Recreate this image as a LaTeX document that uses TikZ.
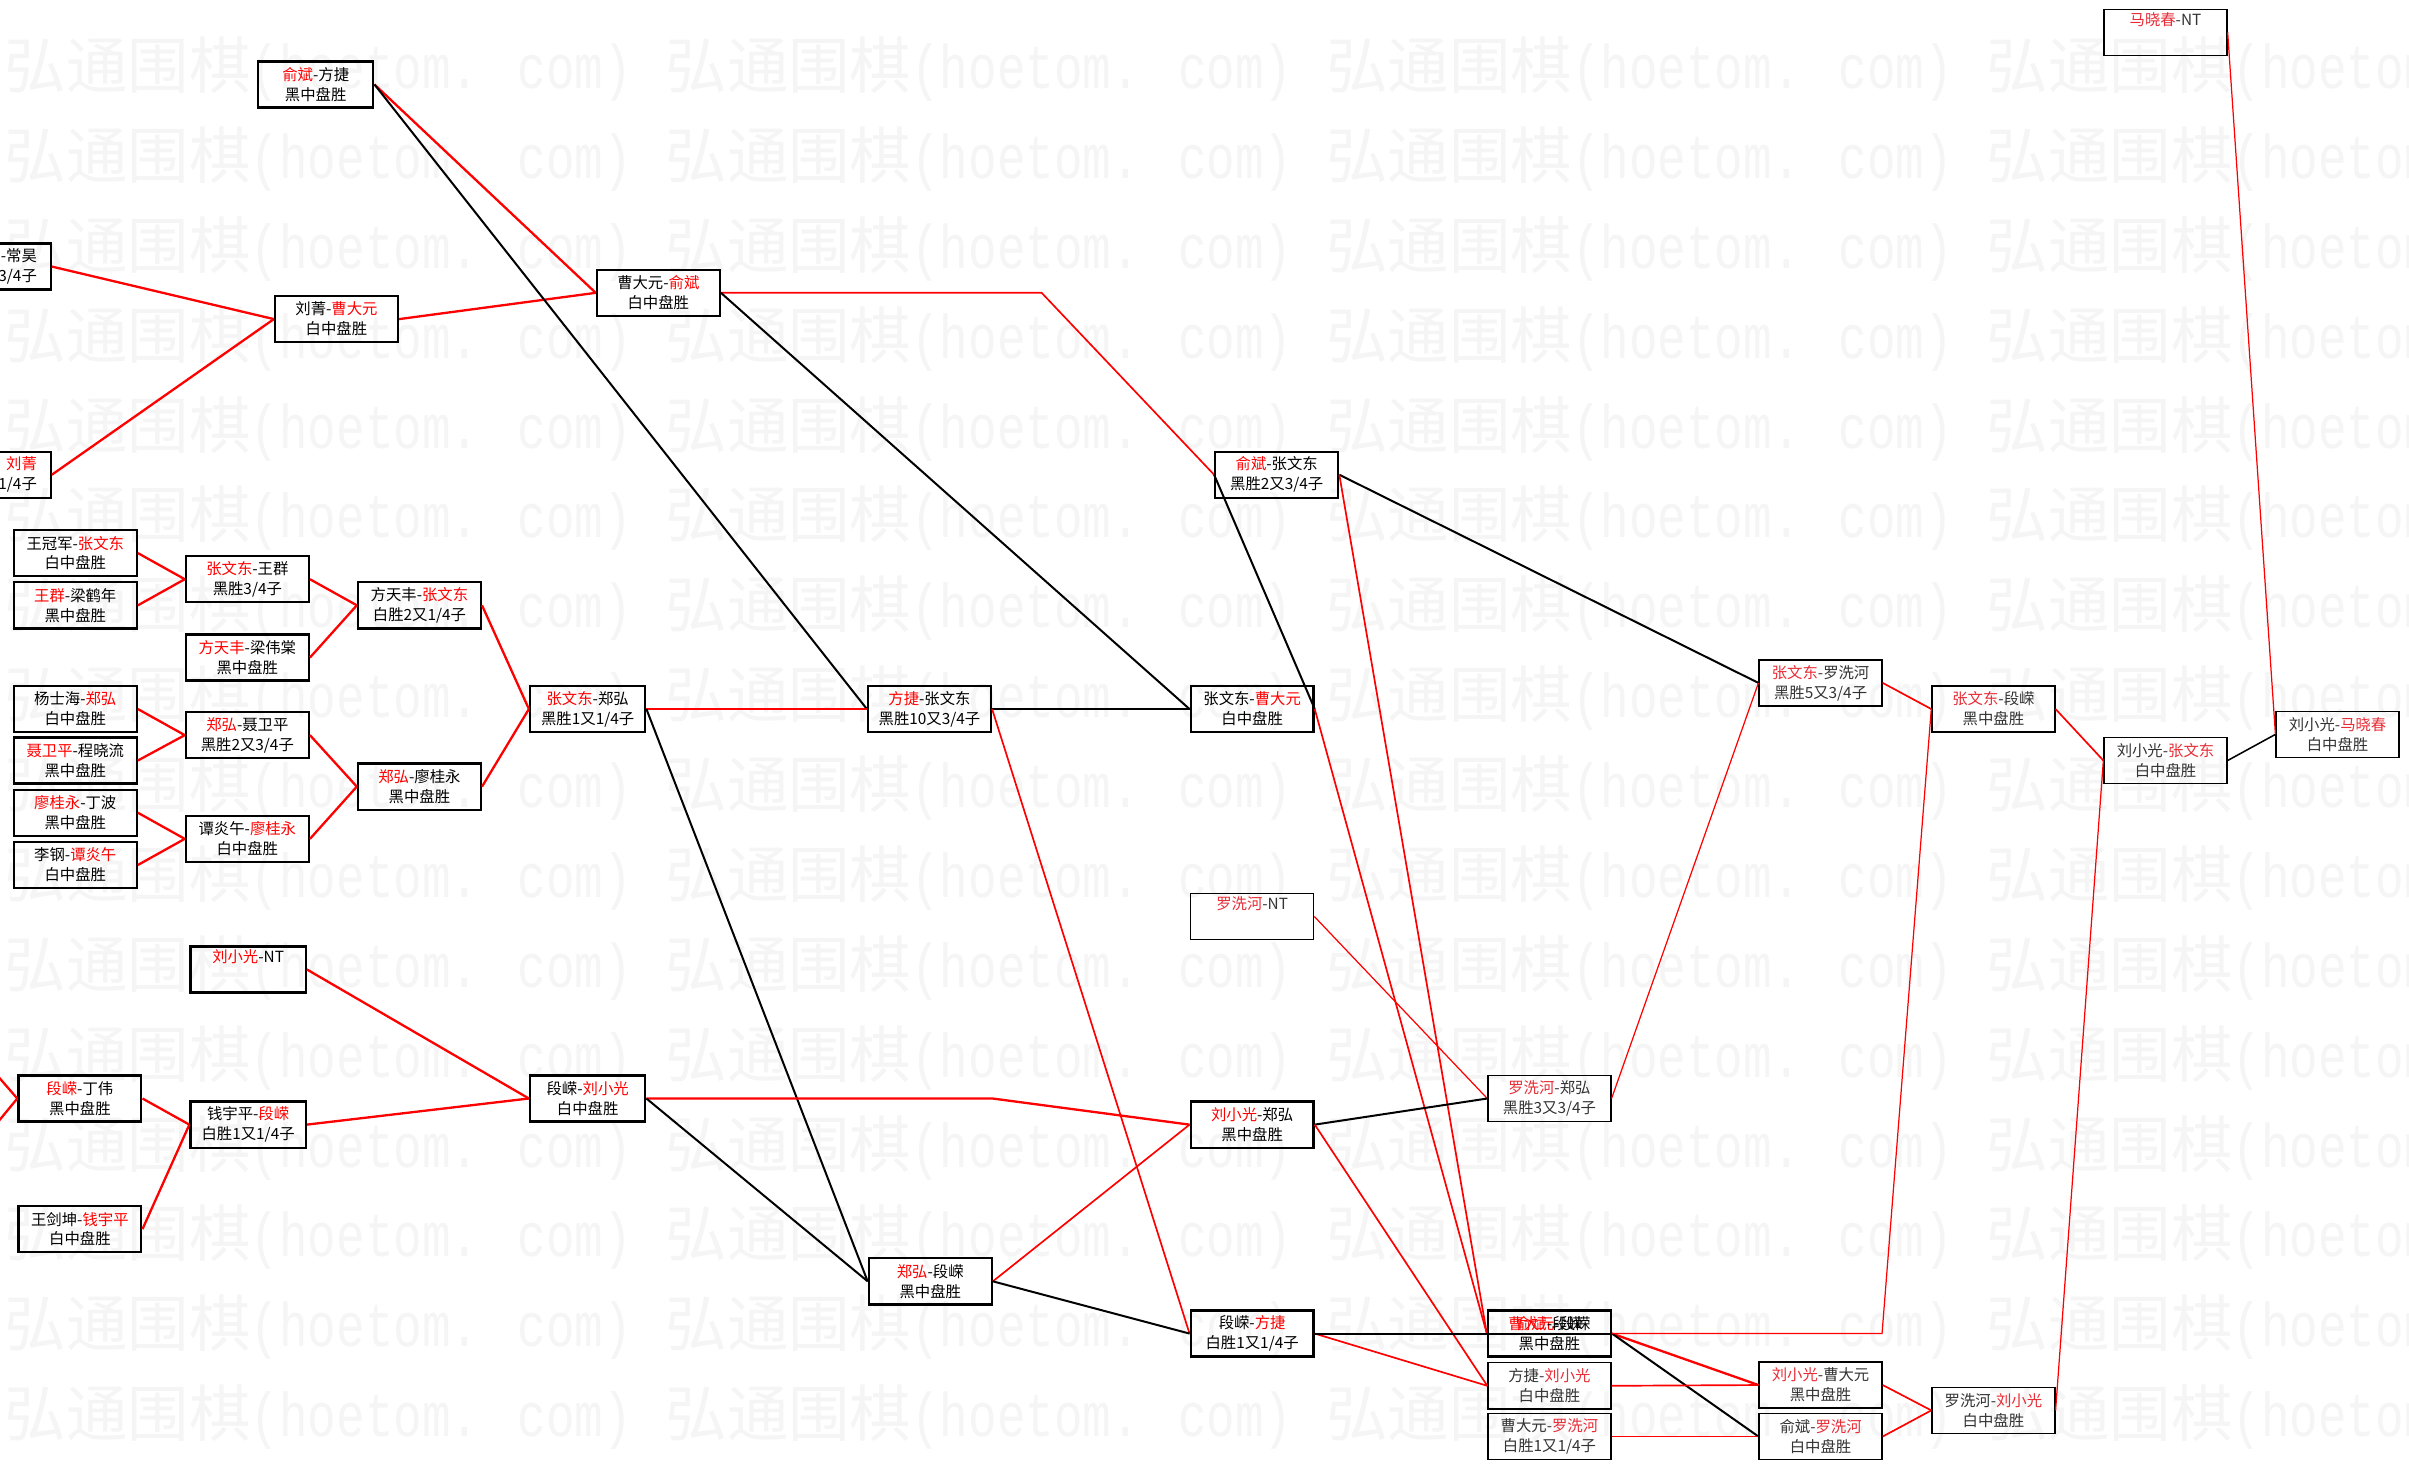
\documentclass[tikz,border=0pt]{standalone}
\usepackage{fontspec}
\setmainfont{Noto Sans CJK SC}
\newfontfamily\wmmono{Liberation Mono}
\definecolor{rdl}{RGB}{232,45,55}
\newcommand\wn[1]{{\color{red}#1}}
\newcommand\wl[1]{{\color{rdl}#1}}
\tikzset{
  nd/.style={draw, line width=1.5pt, minimum width=80pt, minimum height=30pt, inner sep=0pt, align=center, font=\fontsize{10}{13}\selectfont},
  nw/.style={nd, minimum width=75pt},
  lt/.style={nd, line width=0.9pt, text=black!80},
  rl/.style={draw=red, line width=1.5pt},
  rm/.style={draw=red, line width=1.1pt},
  rt/.style={draw=red, line width=0.8pt},
  bl/.style={draw=black, line width=1.3pt},
  blt/.style={draw=black, line width=1pt},
  wm/.style={anchor=west, inner sep=0pt, text=black!4, font=\fontsize{40}{40}\selectfont}
}
\begin{document}
\begin{tikzpicture}[x=1pt,y=-1pt]
\useasboundingbox (0,0) rectangle (1568,956);
\clip (0,0) rectangle (1568,956);
\fill[white] (0,0) rectangle (1568,956);
% watermark
\foreach \r in {0,...,15}{
  \foreach \c in {0,...,3}{
    \node[wm] (wm-\r-\c) at (3+430*\c, 45+58.5*\r) {弘通围棋\scalebox{1}[1.3]{\fontsize{31}{31}\wmmono(hoetom. com)}};
  }
}
% column A
\node[nd, text width=62pt, align=right] (cs) at (-7,173.5) {-常昊\\3/4子};
\node[nd, text width=62pt, align=right] (lj) at (-7,309) {\wn{刘菁}\\1/4子};
\node[nd] (n1) at (49,360) {王冠军-\wn{张文东}\\白中盘胜};
\node[nd] (n2) at (49,394) {\wn{王群}-梁鹤年\\黑中盘胜};
\node[nd] (n3) at (49,461.5) {杨士海-\wn{郑弘}\\白中盘胜};
\node[nd] (n4) at (49,495) {\wn{聂卫平}-程晓流\\黑中盘胜};
\node[nd] (n5) at (49,529) {\wn{廖桂永}-丁波\\黑中盘胜};
\node[nd] (n6) at (49,563) {李钢-\wn{谭炎午}\\白中盘胜};
\node[nd] (n7) at (52,715) {\wn{段嵘}-丁伟\\黑中盘胜};
\node[nd] (n8) at (52,800) {王剑坤-\wn{钱宇平}\\白中盘胜};
\coordinate (offA) at (-20,679);
\coordinate (offB) at (-20,753);
% column B
\node[nd] (b1) at (161,377) {\wn{张文东}-王群\\黑胜3/4子};
\node[nd] (b2) at (161,428) {\wn{方天丰}-梁伟棠\\黑中盘胜};
\node[nd] (b3) at (161,478.5) {\wn{郑弘}-聂卫平\\黑胜2又3/4子};
\node[nd] (b4) at (161,546) {谭炎午-\wn{廖桂永}\\白中盘胜};
\node[nw] (b5) at (161.5,631) {\wn{刘小光}-NT\\\strut};
\node[nw] (b6) at (161.5,732) {钱宇平-\wn{段嵘}\\白胜1又1/4子};
\node[nw] (b7) at (205.5,55) {\wn{俞斌}-方捷\\黑中盘胜};
\node[nd] (b8) at (219,207.7) {刘菁-\wn{曹大元}\\白中盘胜};
% column C
\node[nd] (c1) at (273,394) {方天丰-\wn{张文东}\\白胜2又1/4子};
\node[nd] (c2) at (273,512) {\wn{郑弘}-廖桂永\\黑中盘胜};
% column D
\node[nw] (d1) at (382.5,461.5) {\wn{张文东}-郑弘\\黑胜1又1/4子};
\node[nw] (d2) at (382.5,715) {段嵘-\wn{刘小光}\\白中盘胜};
\node[nd] (d3) at (428.5,190.6) {曹大元-\wn{俞斌}\\白中盘胜};
% column E
\node[nd] (e1) at (605,461.5) {\wn{方捷}-张文东\\黑胜10又3/4子};
\node[nd] (e2) at (605.5,834) {\wn{郑弘}-段嵘\\黑中盘胜};
% column F
\node[nd] (f1) at (815,461.5) {张文东-\wn{曹大元}\\白中盘胜};
\node[nd] (f2) at (831,309) {\wn{俞斌}-张文东\\黑胜2又3/4子};
\node[lt] (f3) at (815,596.5) {\wl{罗洗河}-NT\\\strut};
\node[nd] (f4) at (815,732) {\wn{刘小光}-郑弘\\黑中盘胜};
\node[nd] (f5) at (815,868) {段嵘-\wn{方捷}\\白胜1又1/4子};
% column G
\node[lt] (g1) at (1008.5,715) {\wl{罗洗河}-郑弘\\黑胜3又3/4子};
\node[nd] (g2) at (1008.5,868) {\makebox[0pt][c]{\wn{曹大元}-段嵘}\makebox[0pt][c]{\wn{俞斌}-段嵘}\\黑中盘胜};
\node[lt] (g3) at (1008.5,902) {方捷-\wl{刘小光}\\白中盘胜};
\node[lt] (g4) at (1008.5,935) {曹大元-\wl{罗洗河}\\白胜1又1/4子};
% column H
\node[lt] (h1) at (1185,444.5) {\wl{张文东}-罗洗河\\黑胜5又3/4子};
\node[lt] (h2) at (1185,901.5) {\wl{刘小光}-曹大元\\黑中盘胜};
\node[lt] (h3) at (1185,935) {俞斌-\wl{罗洗河}\\白中盘胜};
% column I
\node[lt] (i1) at (1297.5,461.5) {\wl{张文东}-段嵘\\黑中盘胜};
\node[lt] (i2) at (1297.5,918) {罗洗河-\wl{刘小光}\\白中盘胜};
% column J, K
\node[lt] (j1) at (1409.5,495) {刘小光-\wl{张文东}\\白中盘胜};
\node[lt] (j2) at (1409.5,21) {\wl{马晓春}-NT\\\strut};
\node[lt] (k1) at (1521.5,478) {刘小光-\wl{马晓春}\\白中盘胜};
% bends
\coordinate (bA) at (678,190.6);
\coordinate (bB) at (646,715);
\coordinate (bC) at (1225,868);
% edges left
\draw[rl] (cs.east) -- (b8.west);
\draw[rl] (lj.east) -- (b8.west);
\draw[rl] (b8.east) -- (d3.west);
\draw[rl] (b7.east) -- (d3.west);
\draw[bl] (b7.east) -- (e1.west);
\draw[rm] (d3.east) -- (bA) -- (f2.west);
\draw[bl] (d3.east) -- (f1.west);
\draw[rl] (n1.east) -- (b1.west);
\draw[rl] (n2.east) -- (b1.west);
\draw[rl] (b1.east) -- (c1.west);
\draw[rl] (b2.east) -- (c1.west);
\draw[rl] (n3.east) -- (b3.west);
\draw[rl] (n4.east) -- (b3.west);
\draw[rl] (b3.east) -- (c2.west);
\draw[rl] (n5.east) -- (b4.west);
\draw[rl] (n6.east) -- (b4.west);
\draw[rl] (b4.east) -- (c2.west);
\draw[rl] (c1.east) -- (d1.west);
\draw[rl] (c2.east) -- (d1.west);
\draw[rl] (d1.east) -- (e1.west);
\draw[bl] (d1.east) -- (e2.west);
\draw[bl] (e1.east) -- (f1.west);
\draw[rm] (e1.east) -- (f5.west);
\draw[rl] (offA) -- (n7.west);
\draw[rl] (offB) -- (n7.west);
\draw[rl] (b5.east) -- (d2.west);
\draw[rl] (n7.east) -- (b6.west);
\draw[rl] (n8.east) -- (b6.west);
\draw[rl] (b6.east) -- (d2.west);
\draw[rl] (d2.east) -- (bB) -- (f4.west);
\draw[bl] (d2.east) -- (e2.west);
\draw[rm] (e2.east) -- (f4.west);
\draw[bl] (e2.east) -- (f5.west);
% edges right
\draw[bl] (f1.east) -- (f2.west);
\draw[bl] (f2.east) -- (h1.west);
\draw[rm] (f2.east) -- (g2.west);
\draw[rm] (f1.east) -- (g2.west);
\draw[rt] (f3.east) -- (g1.west);
\draw[bl] (f4.east) -- (g1.west);
\draw[rm] (f4.east) -- (g3.west);
\draw[rm] (f5.east) -- (g3.west);
\draw[bl] (f5.east) -- (g2.east);
\draw[rt] (g1.east) -- (h1.west);
\draw[rl] (g2.east) -- (h2.west);
\draw[bl] (g2.east) -- (h3.west);
\draw[rm] (g3.east) -- (h2.west);
\draw[rm] (g4.east) -- (h3.west);
\draw[rt] (g2.east) -- (bC) -- (i1.west);
\draw[rm] (h1.east) -- (i1.west);
\draw[rm] (i1.east) -- (j1.west);
\draw[blt] (j1.east) -- (k1.west);
\draw[rt] (j2.east) -- (k1.west);
\draw[rm] (h2.east) -- (i2.west);
\draw[rm] (h3.east) -- (i2.west);
\draw[rt] (i2.east) -- (j1.west);
\end{tikzpicture}
\end{document}
